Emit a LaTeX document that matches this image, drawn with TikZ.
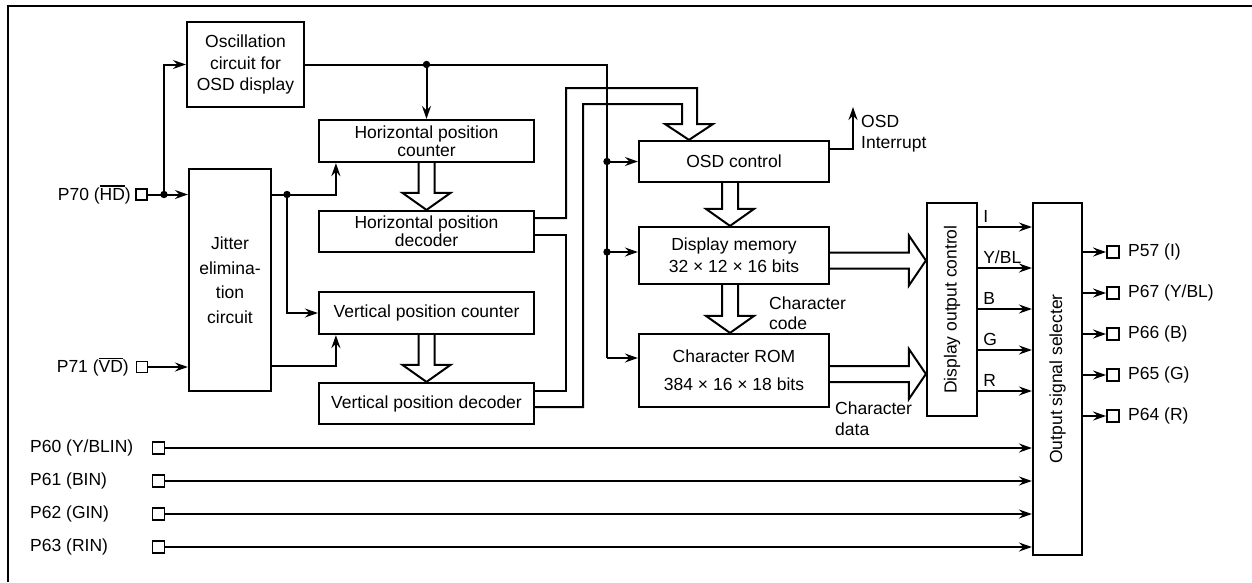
\documentclass[tikz,border=0pt]{standalone}
\usepackage{fontspec}
\setmainfont{Liberation Sans}
\usetikzlibrary{arrows.meta}
\newcommand\ovl[1]{\leavevmode\vbox{\hrule height 1.3pt\kern 1.6pt\hbox{#1}}}
\newcommand\hollowv[2]{\draw[hollow] ([xshift=-8pt]#1) -- ([xshift=-8pt,yshift=17pt]#2) -- ([xshift=-24pt,yshift=17pt]#2) -- (#2) -- ([xshift=24pt,yshift=17pt]#2) -- ([xshift=8pt,yshift=17pt]#2) -- ([xshift=8pt]#1);}
\newcommand\hollowh[2]{\draw[hollow] ([yshift=8pt]#1) -- ([xshift=-17pt,yshift=8pt]#2) -- ([xshift=-17pt,yshift=25pt]#2) -- (#2) -- ([xshift=-17pt,yshift=-25pt]#2) -- ([xshift=-17pt,yshift=-8pt]#2) -- ([yshift=-8pt]#1);}
\begin{document}
\begin{tikzpicture}[x=1pt,y=-1pt,
 box/.style={draw,line width=2.2pt,inner sep=0pt,align=center,font=\fontsize{17.5}{21}\selectfont},
 ln/.style={line width=2pt},
 arr/.style={line width=2pt,-{Stealth[length=13pt,width=9pt,inset=4.5pt]}},
 hollow/.style={line width=2pt,line join=miter},
 pin/.style={draw,line width=1.9pt,minimum size=11pt,inner sep=0pt},
 lbl/.style={inner sep=0pt,font=\fontsize{17.5}{21}\selectfont}]
\useasboundingbox (0,0) rectangle (1252,582);
\draw[line width=2.3pt] (8,582) -- (8,6) -- (1252,6);

% blocks
\node[box,minimum width=117,minimum height=85,font=\fontsize{17.5}{21.5}\selectfont] (osc) at (245.5,64.5) {Oscillation\\circuit for\\OSD display};
\node[box,minimum width=82,minimum height=222,font=\fontsize{17.5}{24.5}\selectfont] (jit) at (230,280) {Jitter\\elimina-\\tion\\circuit};
\node[box,minimum width=215,minimum height=42,font=\fontsize{17.5}{18}\selectfont] (hpc) at (426.5,141) {Horizontal position\\counter};
\node[box,minimum width=215,minimum height=41,font=\fontsize{17.5}{18}\selectfont] (hpd) at (426.5,231.5) {Horizontal position\\decoder};
\node[box,minimum width=215,minimum height=42] (vpc) at (426.5,313) {Vertical position counter};
\node[box,minimum width=215,minimum height=41] (vpd) at (426.5,403.5) {Vertical position decoder};
\node[box,minimum width=190,minimum height=41] (osd) at (734,161.5) {OSD control};
\node[box,minimum width=190,minimum height=57,font=\fontsize{17.5}{22}\selectfont] (dm) at (734,255.5) {Display memory\\32 × 12 × 16 bits};
\node[box,minimum width=190,minimum height=73,font=\fontsize{17.5}{28}\selectfont] (rom) at (734,370.5) {Character ROM\\384 × 16 × 18 bits};
\node[box,minimum width=50,minimum height=213] (doc) at (952,309.5) {};
\node[lbl,rotate=90] (doct) at (doc.center) {Display output control};
\node[box,minimum width=49,minimum height=352] (oss) at (1057.5,379) {};
\node[lbl,rotate=90] (osst) at (oss.center) {Output signal selecter};

% input pins
\node[pin] (p70) at (141.5,194.5) {};
\node[lbl,anchor=east] (p70l) at (131,194.5) {P70 (\ovl{HD})};
\node[pin] (p71) at (142,367) {};
\node[lbl,anchor=east] (p71l) at (129,367) {P71 (\ovl{VD})};
\foreach \i/\yy/\t in {60/448/{Y/BLIN},61/481/BIN,62/514/GIN,63/547/RIN}{
  \node[pin,minimum size=12pt] (p\i) at (158.5,\yy) {};
  \node[lbl,anchor=west] (p\i l) at (30,\yy) {P\i\ (\t)};
  \draw[arr] (p\i.east) -- (p\i -| oss.west);
}

% HD path
\coordinate (d70) at (164,194.5);
\draw[ln] (p70.east) -- (d70);
\draw[arr] (d70) -- (d70 -| jit.west);
\draw[arr] (d70) |- (osc.west);
\fill (d70) circle[radius=3.7];
% VD
\draw[arr] (p71.east) -- (p71 -| jit.west);

% jitter outputs
\coordinate (jd) at (287,194.5);
\draw[ln] (jd -| jit.east) -- (jd);
\draw[arr] (jd) -| ([xshift=18pt]hpc.south west);
\draw[arr] (jd) |- (vpc.west);
\fill (jd) circle[radius=3.7];
\draw[arr] ([yshift=-86pt]jit.east) -| ([xshift=18pt]vpc.south west);

% oscillator output
\coordinate (oT) at (607,64.5);
\coordinate (oB) at (607,358);
\coordinate (hdot) at (hpc.north |- osc.east);
\draw[ln] (osc.east) -- (oT) -- (oB);
\draw[arr] (hdot) -- (hpc.north);
\fill (hdot) circle[radius=3.7];
\coordinate (od1) at (oT |- osd.west);
\draw[arr] (od1) -- (osd.west);
\fill (od1) circle[radius=3.7];
\coordinate (dmin) at ([yshift=3.5pt]dm.west);
\coordinate (od2) at (oT |- dmin);
\draw[arr] (od2) -- (dmin);
\fill (od2) circle[radius=3.7];
\draw[arr] (oB) -- (oB -| rom.west);

% hollow arrows
\hollowv{hpc.south}{hpd.north}
\hollowv{vpc.south}{vpd.north}
\coordinate (a1) at ([xshift=-4pt]osd.south);
\coordinate (a2) at ([xshift=-4pt]dm.north);
\hollowv{a1}{a2}
\coordinate (a3) at ([xshift=-4pt]dm.south);
\coordinate (a4) at ([xshift=-4pt]rom.north);
\hollowv{a3}{a4}
\coordinate (h1) at ([yshift=-5pt]dm.east);
\coordinate (h2) at (h1 -| doc.west);
\hollowh{h1}{h2}
\coordinate (h3) at ([yshift=-3.5pt]rom.east);
\coordinate (h4) at (h3 -| doc.west);
\hollowh{h3}{h4}

% decoder bus into OSD control
\draw[hollow] ([yshift=13.5pt]hpd.east) -| (566,88) -| (697,124) -- (713,124) -- ([xshift=-45pt]osd.north) -- (665,124) -- (682,124) |- (583,104) |- ([yshift=-3.5pt]vpd.east);
\draw[ln] ([yshift=-3.5pt]hpd.east) -| (566,391) -- ([yshift=12.5pt]vpd.east);

% OSD interrupt
\coordinate (intr) at (853,107);
\draw[arr] ([yshift=12.5pt]osd.east) -| (intr);
\node[lbl,anchor=west,align=left,font=\fontsize{17.5}{21}\selectfont] (intl) at (861,133.5) {OSD\\Interrupt};

\node[lbl,anchor=west,align=left,font=\fontsize{17.5}{20}\selectfont] (ccode) at (769,313) {Character\\code};
\node[lbl,anchor=west,align=left,font=\fontsize{17.5}{21}\selectfont] (cdata) at (835,418.5) {Character\\data};

% DOC -> OSS
\foreach \i/\yy/\t in {1/227/I,2/268/{Y/BL},3/309/B,4/350/G,5/391/R}{
  \coordinate (s\i) at (0,\yy);
  \draw[arr] (s\i -| doc.east) -- (s\i -| oss.west);
  \node[lbl,anchor=base west] (sl\i) at ([yshift=5pt]s\i -| doc.east) {\hspace{5pt}\t};
}

% outputs
\foreach \i/\yy/\t in {57/252/I,67/293/{Y/BL},66/334/B,65/375/G,64/416/R}{
  \node[pin,minimum size=12pt] (q\i) at (1113,\yy) {};
  \draw[arr] (q\i -| oss.east) -- (q\i.west);
  \node[lbl,anchor=west] (q\i l) at (1128,\yy) {P\i\ (\t)};
}
\end{tikzpicture}
\end{document}
